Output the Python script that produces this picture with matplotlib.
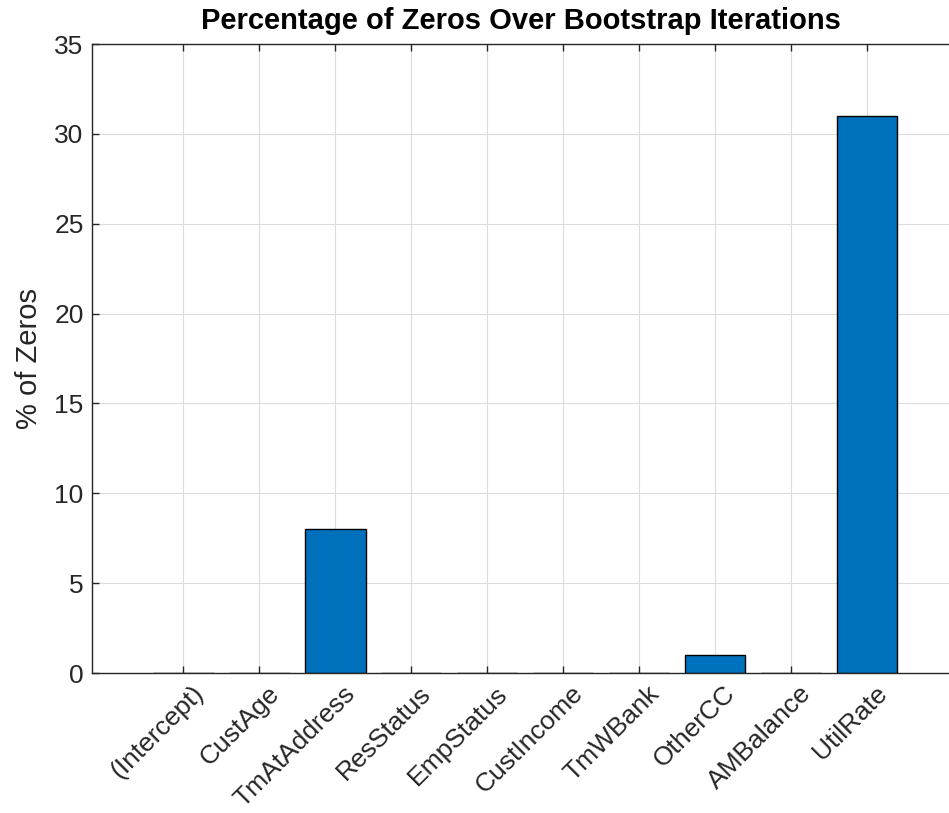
import matplotlib
matplotlib.use("Agg")
import matplotlib.pyplot as plt
import matplotlib.transforms as mtransforms

plt.rcParams["font.family"] = ["Liberation Sans", "DejaVu Sans"]

names = ["(Intercept)", "CustAge", "TmAtAddress", "ResStatus", "EmpStatus",
         "CustIncome", "TmWBank", "OtherCC", "AMBalance", "UtilRate"]
pct_zeros = [0, 0, 8, 0, 0, 0, 0, 1, 0, 31]

fig = plt.figure(figsize=(9.49, 8.13), dpi=100)
ax = fig.add_axes([92 / 949, 1 - 673 / 813, 1 - 92 / 949, (673 - 44) / 813])

x = list(range(1, len(names) + 1))
ax.bar(x, pct_zeros, width=0.8, color="#0072BD", edgecolor="black", linewidth=1.0, zorder=2)

ax.set_xlim(-0.2, 11.08)
ax.set_ylim(0, 35)
ax.set_xticks(x)
ax.set_xticklabels(names, rotation=45, ha="right", rotation_mode="anchor")
ax.set_yticks(range(0, 36, 5))
ax.grid(True, color="#dcdcdc", linewidth=0.8, zorder=0)
ax.set_axisbelow(True)
ax.tick_params(direction="in", length=5, width=1, colors="#262626", labelsize=19,
               top=True, pad=6)
ax.tick_params(axis="x", pad=6)
# nudge the rotated labels so their ends sit just right of the ticks
offset = mtransforms.ScaledTranslation(8 / 100, 0, fig.dpi_scale_trans)
for lbl in ax.get_xticklabels():
    lbl.set_transform(lbl.get_transform() + offset)
for side in ["left", "bottom", "top"]:
    ax.spines[side].set_color("#262626")
    ax.spines[side].set_linewidth(1.0)
ax.spines["right"].set_visible(False)

ax.set_ylabel("% of Zeros", fontsize=21, color="#262626", labelpad=8)
ax.set_title("Percentage of Zeros Over Bootstrap Iterations", fontsize=21,
             fontweight="bold", color="black", pad=11)

fig.savefig("out.png", dpi=100)
